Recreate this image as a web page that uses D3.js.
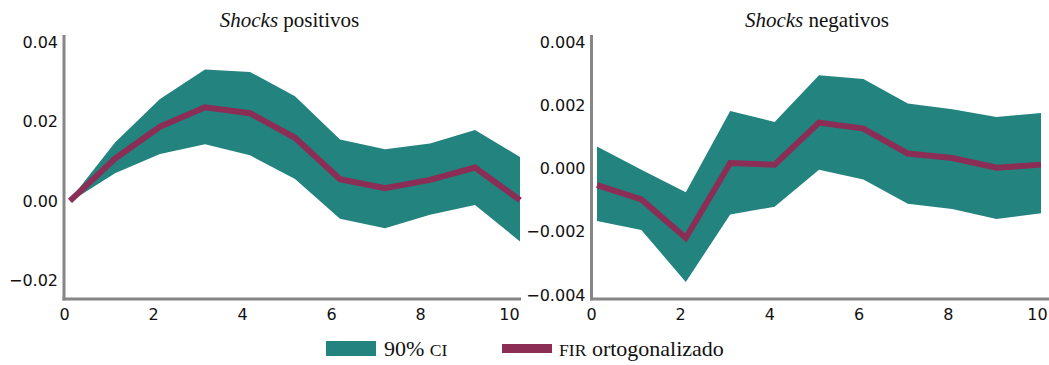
<!DOCTYPE html>
<html lang="es">
<head>
<meta charset="UTF-8">
<title>FIR ortogonalizado</title>
<script src="https://d3js.org/d3.v7.min.js"></script>
<style>
  body { margin: 0; background: #fff; }
  svg { display: block; }
  .tick text { font-family: "DejaVu Sans", sans-serif; font-size: 16px; fill: #111; }
  .title, .legend text { font-family: "Liberation Serif", serif; fill: #111; }
  .sc { font-size: 0.8em; }
</style>
</head>
<body>
<div id="chart"></div>
<script>
// horizon (steps)
const steps = [0, 1, 2, 3, 4, 5, 6, 7, 8, 9, 10];
const xTicks = [0, 2, 4, 6, 8, 10];

// positive shocks
const posMean  = [0.0000, 0.0107, 0.0187, 0.0236, 0.0221, 0.0159, 0.0055, 0.0032, 0.0053, 0.0084, 0.0002];
const posUpper = [0.0003, 0.0147, 0.0257, 0.0331, 0.0325, 0.0264, 0.0155, 0.0130, 0.0145, 0.0179, 0.0111];
const posLower = [-0.0002, 0.0070, 0.0118, 0.0143, 0.0115, 0.0055, -0.0045, -0.0069, -0.0035, -0.0010, -0.0102];
const posTicks = [-0.02, 0, 0.02, 0.04];

// negative shocks
const negMean  = [-0.00053, -0.00098, -0.00220, 0.00017, 0.00012, 0.00145, 0.00126, 0.00047, 0.00033, 0.00002, 0.00012];
const negUpper = [0.00069, -0.00004, -0.00075, 0.00182, 0.00147, 0.00295, 0.00283, 0.00205, 0.00187, 0.00163, 0.00175];
const negLower = [-0.00166, -0.00195, -0.00359, -0.00146, -0.00121, -0.00004, -0.00035, -0.00112, -0.00128, -0.00160, -0.00142];
const negTicks = [-0.004, -0.002, 0, 0.002, 0.004];

const teal = "#23837f";
const wine = "#8c2d55";
const grey = "#868686";

const W = 1049, H = 365;
const plotTop = 35, plotBottom = 299;

const svg = d3.select("#chart").append("svg")
  .attr("width", W)
  .attr("height", H);

const panels = [
  { name: "positivos", mean: posMean, upper: posUpper, lower: posLower, ticks: posTicks,
    fmt: d3.format(".2f"), domain: [-0.0247, 0.0418],
    xRange: [70, 520], labRange: [64, 509], axisX: 64, axisEnd: 521 },
  { name: "negativos", mean: negMean, upper: negUpper, lower: negLower, ticks: negTicks,
    fmt: d3.format(".3f"), domain: [-0.00413, 0.00422],
    xRange: [597, 1041], labRange: [591, 1037], axisX: 591.5, axisEnd: 1049 }
];

panels.forEach(p => {
  const x = d3.scaleLinear().domain([0, 10]).range(p.xRange);
  // tick labels sit a little to the left of the plotted steps
  const xLab = x.copy().range(p.labRange);
  const y = d3.scaleLinear().domain(p.domain).range([plotBottom, plotTop]);

  const rows = steps.map((s, i) => ({ s, m: p.mean[i], hi: p.upper[i], lo: p.lower[i] }));

  // confidence band
  svg.append("path")
    .datum(rows)
    .attr("fill", teal)
    .attr("d", d3.area().x(d => x(d.s)).y0(d => y(d.lo)).y1(d => y(d.hi)));

  // impulse response
  svg.append("path")
    .datum(rows)
    .attr("fill", "none")
    .attr("stroke", wine)
    .attr("stroke-width", 6)
    .attr("d", d3.line().x(d => x(d.s)).y(d => y(d.m)));

  // axis lines
  svg.append("line")
    .attr("x1", p.axisX).attr("x2", p.axisX)
    .attr("y1", plotTop).attr("y2", plotBottom + 1.5)
    .attr("stroke", grey).attr("stroke-width", 3);
  svg.append("line")
    .attr("x1", p.axisX - 1.5).attr("x2", p.axisEnd)
    .attr("y1", plotBottom).attr("y2", plotBottom)
    .attr("stroke", grey).attr("stroke-width", 3);

  // tick labels
  const gy = svg.append("g")
    .attr("transform", `translate(${p.axisX},0)`)
    .call(d3.axisLeft(y).tickValues(p.ticks).tickFormat(p.fmt).tickSize(0).tickPadding(6));
  gy.select(".domain").remove();

  const gx = svg.append("g")
    .attr("transform", `translate(0,${plotBottom})`)
    .call(d3.axisBottom(xLab).tickValues(xTicks).tickFormat(d3.format("d")).tickSize(0).tickPadding(10));
  gx.select(".domain").remove();

  // panel title
  const t = svg.append("text")
    .attr("class", "title")
    .attr("x", xLab(5) + 3)
    .attr("y", 27)
    .attr("text-anchor", "middle")
    .style("font-size", "21px");
  t.append("tspan").style("font-style", "italic").text("Shocks");
  t.append("tspan").text(" " + p.name);
});

// legend
const legend = svg.append("g").attr("class", "legend");
legend.append("rect")
  .attr("x", 326).attr("y", 341).attr("width", 50).attr("height", 15)
  .attr("fill", teal);
legend.append("text")
  .attr("x", 384).attr("y", 356)
  .style("font-size", "22px")
  .html('90% <tspan class="sc">CI</tspan>');
legend.append("rect")
  .attr("x", 502).attr("y", 344).attr("width", 50).attr("height", 9)
  .attr("fill", wine);
legend.append("text")
  .attr("x", 559).attr("y", 356)
  .style("font-size", "22px")
  .html('<tspan class="sc">FIR</tspan> ortogonalizado');
</script>
</body>
</html>
